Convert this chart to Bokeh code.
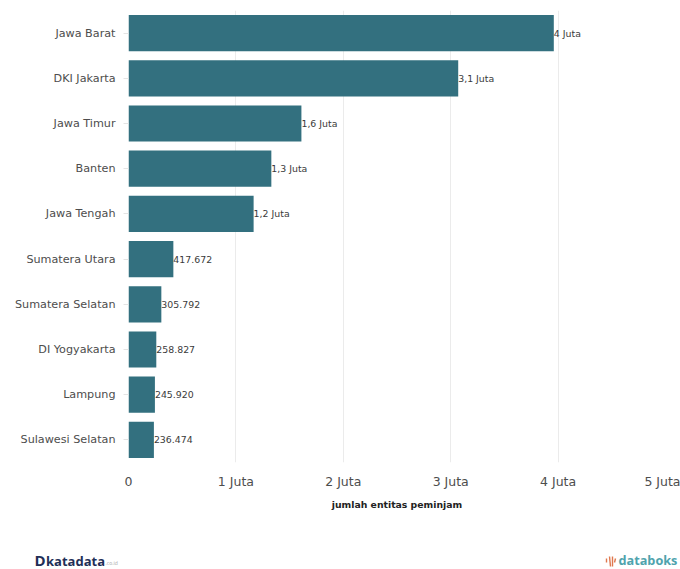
from bokeh.embed import file_html
from bokeh.layouts import column
from bokeh.resources import INLINE
from bokeh.plotting import figure
from bokeh.models import ColumnDataSource, FactorRange, Range1d, FixedTicker
from bokeh.core.properties import value

provinces = ["Jawa Barat", "DKI Jakarta", "Jawa Timur", "Banten", "Jawa Tengah",
             "Sumatera Utara", "Sumatera Selatan", "DI Yogyakarta", "Lampung", "Sulawesi Selatan"]
borrowers = [3960000, 3070000, 1610000, 1330000, 1165000,
             417672, 305792, 258827, 245920, 236474]
value_labels = ["4 Juta", "3,1 Juta", "1,6 Juta", "1,3 Juta", "1,2 Juta",
                "417.672", "305.792", "258.827", "245.920", "236.474"]
x_ticks = [0, 1000000, 2000000, 3000000, 4000000, 5000000]
x_tick_labels = ["0", "1 Juta", "2 Juta", "3 Juta", "4 Juta", "5 Juta"]
x_title = "jumlah entitas peminjam"

FONT = "DejaVu Sans"
BAR = "#33707F"
CHART_HEIGHT = 530
PAGE_HEIGHT = 569
PAGE_WIDTH = 680
FRAME_BOTTOM = 462

source = ColumnDataSource(dict(province=provinces, borrowers=borrowers, label=value_labels))

p = figure(width=PAGE_WIDTH, height=CHART_HEIGHT, output_backend="svg", toolbar_location=None,
           x_range=Range1d(0, 5000000), y_range=FactorRange(factors=provinces[::-1]),
           min_border_left=128, min_border_right=15, min_border_top=10,
           min_border_bottom=CHART_HEIGHT - FRAME_BOTTOM, frame_align=False,
           outline_line_color=None, background_fill_color="white", border_fill_color="white")

p.hbar(y="province", right="borrowers", left=0, height=0.8, source=source,
       fill_color=BAR, line_color=None)
p.text(x="borrowers", y="province", text="label", source=source, x_offset=0,
       text_font=value(FONT), text_font_size="9.4px", text_color="#3A3A3A",
       text_align="left", text_baseline="middle")

# vertical guides only, very faint
p.ygrid.grid_line_color = None
p.xgrid.grid_line_color = "#EBEBEB"
p.xgrid.grid_line_width = 1

xa = p.xaxis[0]
xa.ticker = FixedTicker(ticks=x_ticks)
xa.major_label_overrides = dict(zip(x_ticks, x_tick_labels))
xa.axis_line_color = None
xa.major_tick_line_color = None
xa.minor_tick_line_color = None
xa.major_label_standoff = 5
xa.major_label_text_font = FONT
xa.major_label_text_font_size = "12.5px"
xa.major_label_text_color = "#4D4D4D"
xa.axis_label = x_title
xa.axis_label_text_font = FONT
xa.axis_label_text_font_size = "9.3px"
xa.axis_label_text_font_style = "bold"
xa.axis_label_text_color = "#222222"
xa.axis_label_standoff = 7

ya = p.yaxis[0]
ya.axis_line_color = None
ya.major_tick_line_color = "#E4E4E4"
ya.major_tick_out = 5
ya.major_tick_in = 0
ya.minor_tick_line_color = None
ya.major_label_standoff = 8
ya.major_label_text_font = FONT
ya.major_label_text_font_size = "11.2px"
ya.major_label_text_color = "#4D4D4D"

# footer strip: its ranges run in page pixels, so the brand marks sit where they belong
footer = figure(width=PAGE_WIDTH, height=PAGE_HEIGHT - CHART_HEIGHT, output_backend="svg",
                toolbar_location=None, x_range=Range1d(0, PAGE_WIDTH),
                y_range=Range1d(PAGE_HEIGHT, CHART_HEIGHT), x_axis_location=None, y_axis_location=None,
                min_border=0, frame_align=False, outline_line_color=None, border_fill_color="white")
footer.grid.visible = False

def wordmark(x, y, text, color, size, style="bold"):
    footer.text(x=[x], y=[y], text=[text], text_color=color, text_font=value("Open Sans"),
                text_font_size=size, text_font_style=style, text_baseline="middle", text_align="left")

wordmark(34, 559.5, "D", "#1F2F57", "15px")
wordmark(45.5, 560, "katadata", "#1F2F57", "13px")
wordmark(105, 562, ".co.id", "#A8A8A8", "5px", "normal")
wordmark(618, 559.5, "databoks", "#4FA3AD", "12.7px")

# databoks emblem: a small fan of strokes
footer.segment(x0=[606, 609, 612, 615], y0=[558, 556, 556, 558],
               x1=[606, 610, 612, 614], y1=[562, 566, 566, 562],
               line_color="#E0784E", line_width=1.4)

open("out.html", "w").write(file_html(column(p, footer, spacing=0), INLINE))
